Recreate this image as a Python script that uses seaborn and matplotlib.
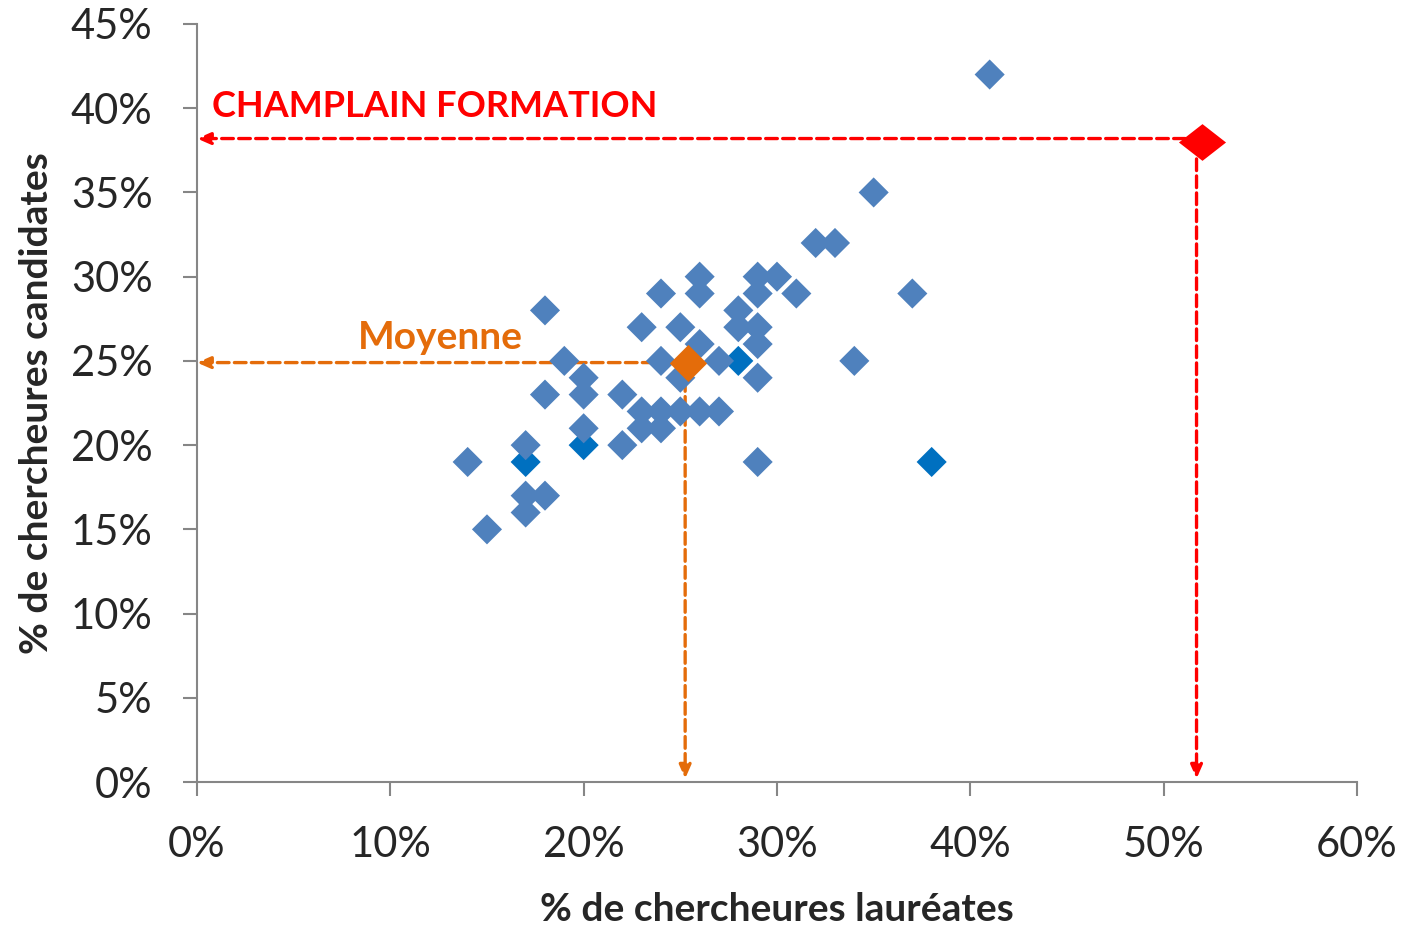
import pandas as pd
import matplotlib.pyplot as plt
import seaborn as sns
from matplotlib.path import Path

# data (% laureates, % candidates)
x_main = [41, 35, 32, 33, 37, 34, 29, 26, 29, 30, 24, 26, 29, 31, 18, 28, 23, 25, 28, 29,
          26, 29, 19, 24, 27, 20, 25, 29, 18, 20, 22, 23, 24, 25, 26, 27, 20, 23, 24,
          17, 22, 14, 17, 18, 17, 15]
y_main = [42, 35, 32, 32, 29, 25, 19, 30, 30, 30, 29, 29, 29, 29, 28, 28, 27, 27, 27, 27,
          26, 26, 25, 25, 25, 24, 24, 24, 23, 23, 23, 22, 22, 22, 22, 22, 21, 21, 21,
          20, 20, 19, 17, 17, 16, 15]
x_dark = [38, 28, 17, 20]
y_dark = [19, 25, 19, 20]

mean_x, mean_y = 25.4, 24.9
champ_x, champ_y = 52, 38

x_ticks = [0, 10, 20, 30, 40, 50, 60]
y_ticks = [0, 5, 10, 15, 20, 25, 30, 35, 40, 45]

df = pd.DataFrame({
    "x": x_dark + x_main,
    "y": y_dark + y_main,
    "grp": ["dark"] * len(x_dark) + ["main"] * len(x_main),
})

sns.set_style("white")
plt.rcParams["font.family"] = ["Lato", "DejaVu Sans"]

BLUE = "#4F81BD"
DARK = "#0070C0"
ORANGE = "#E46C0A"
RED = "#FF0000"
GREY = "#868686"

fig = plt.figure(figsize=(14.09, 9.3), dpi=100)
ax = fig.add_axes([0.1398, 0.1591, 0.9631 - 0.1398, 0.9742 - 0.1591])

sns.scatterplot(data=df, x="x", y="y", hue="grp", palette={"main": BLUE, "dark": DARK},
                marker="D", s=235, linewidth=0, legend=False, ax=ax, zorder=3)

# arrows to the axes
def dashed_arrow(x0, y0, x1, y1, color):
    ax.annotate("", xy=(x1, y1), xytext=(x0, y0), annotation_clip=False,
                arrowprops=dict(arrowstyle="-|>,head_length=0.8,head_width=0.35",
                                linestyle=(0, (3.5, 1.6)), lw=2.4, color=color,
                                shrinkA=0, shrinkB=0), zorder=2)

dashed_arrow(mean_x, mean_y, 0, mean_y, ORANGE)
dashed_arrow(mean_x - 0.15, mean_y, mean_x - 0.15, 0.2, ORANGE)
dashed_arrow(champ_x, champ_y + 0.2, 0, champ_y + 0.2, RED)
dashed_arrow(champ_x - 0.3, champ_y, champ_x - 0.3, 0.2, RED)

ax.scatter([mean_x], [mean_y], marker="D", s=360, color=ORANGE, linewidth=0, zorder=4)
wide_diamond = Path([(-1, 0), (0, 0.78), (1, 0), (0, -0.78), (-1, 0)])
ax.scatter([champ_x], [champ_y], marker=wide_diamond, s=1150, color=RED, linewidth=0,
           zorder=4, clip_on=False)

ax.text(0.8, 40.1, "CHAMPLAIN FORMATION", color=RED, fontsize=26, fontweight="bold",
        ha="left", va="center")
ax.text(12.6, 26.4, "Moyenne", color=ORANGE, fontsize=28, fontweight="bold",
        ha="center", va="center")

ax.set_xlim(0, 60)
ax.set_ylim(0, 45)
ax.set_xticks(x_ticks)
ax.set_yticks(y_ticks)
ax.set_xticklabels([f"{v}%" for v in x_ticks])
ax.set_yticklabels([f"{v}%" for v in y_ticks])
ax.tick_params(axis="both", labelsize=30, length=10, width=1.5, color=GREY,
               direction="out", bottom=True, left=True)
ax.tick_params(axis="x", pad=22)
ax.tick_params(axis="y", pad=22)

for side in ["top", "right"]:
    ax.spines[side].set_visible(False)
for side in ["left", "bottom"]:
    ax.spines[side].set_color(GREY)
    ax.spines[side].set_linewidth(1.5)

ax.set_xlabel("% de chercheures lauréates", fontsize=28, fontweight="bold", labelpad=20)
ax.set_ylabel("% de chercheures candidates", fontsize=28, fontweight="bold", labelpad=12)

fig.savefig("out.png", dpi=100)
